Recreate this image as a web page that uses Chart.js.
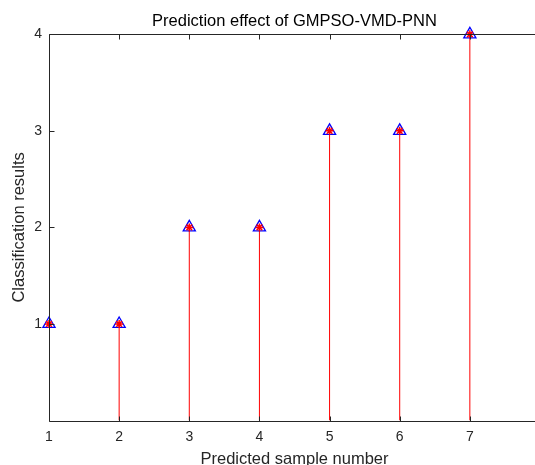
<!DOCTYPE html>
<html lang="en">
  <head>
    <meta charset="UTF-8" />
    <title>Prediction effect of GMPSO-VMD-PNN</title>
    <script src="https://cdn.jsdelivr.net/npm/chart.js"></script>
    <style>
      html, body { margin: 0; padding: 0; background: #fff; overflow: hidden; }
      /* axes run out to x = 8 just past the right edge of the window */
      #stem-chart { display: block; width: 540px; height: 465px; }
    </style>
  </head>
  <body>
    <canvas id="stem-chart" width="540" height="465"></canvas>

    <script>
      const sampleNo = [1, 2, 3, 4, 5, 6, 7];
      const actualClass = [1, 1, 2, 2, 3, 3, 4];
      const predictedClass = [1, 1, 2, 2, 3, 3, 4];
      const xTicks = [1, 2, 3, 4, 5, 6, 7];
      const xTickMarks = [1, 2, 3, 4, 5, 6, 7, 8];
      const yTicks = [1, 2, 3, 4];

      const axisColor = "#262626";

      // stem lines: 0 -> value, broken by a null point
      function stemPoints(vals) {
        const pts = [];
        sampleNo.forEach((x, i) => {
          pts.push({ x: x, y: 0 }, { x: x, y: vals[i] }, { x: x, y: null });
        });
        return pts;
      }
      function markerPoints(vals) {
        return sampleNo.map((x, i) => ({ x: x, y: vals[i] }));
      }

      // box + inward tick marks, matlab style
      const axesFrame = {
        id: "axesFrame",
        afterDraw(chart) {
          const { ctx, chartArea: a, scales } = chart;
          const px = (v) => Math.round(v) + 0.5;
          const len = 5;
          ctx.save();
          ctx.strokeStyle = axisColor;
          ctx.lineWidth = 1;
          ctx.beginPath();
          ctx.rect(px(a.left), px(a.top), Math.round(a.right) - Math.round(a.left), Math.round(a.bottom) - Math.round(a.top));
          xTickMarks.forEach((v) => {
            const x = px(scales.x.getPixelForValue(v));
            ctx.moveTo(x, px(a.bottom));
            ctx.lineTo(x, px(a.bottom) - len);
            ctx.moveTo(x, px(a.top));
            ctx.lineTo(x, px(a.top) + len);
          });
          yTicks.forEach((v) => {
            const y = px(scales.y.getPixelForValue(v));
            ctx.moveTo(px(a.left), y);
            ctx.lineTo(px(a.left) + len, y);
            ctx.moveTo(px(a.right), y);
            ctx.lineTo(px(a.right) - len, y);
          });
          ctx.stroke();
          ctx.restore();
        },
      };

      new Chart(document.getElementById("stem-chart"), {
        type: "scatter",
        data: {
          datasets: [
            {
              label: "Prediction stems",
              data: stemPoints(predictedClass),
              showLine: true,
              spanGaps: false,
              borderColor: "#ff0000",
              borderWidth: 1,
              pointRadius: 0,
              order: 3,
            },
            {
              label: "Actual",
              data: markerPoints(actualClass),
              pointStyle: "triangle",
              pointRadius: 7,
              borderColor: "#0000ff",
              backgroundColor: "rgba(0,0,0,0)",
              borderWidth: 1.3,
              clip: false,
              order: 2,
            },
            {
              label: "Predicted",
              data: markerPoints(predictedClass),
              pointStyle: "star",
              pointRadius: 4,
              borderColor: "#ff0000",
              backgroundColor: "#ff0000",
              borderWidth: 1.5,
              clip: false,
              order: 1,
            },
          ],
        },
        options: {
          responsive: false,
          animation: false,
          layout: { padding: 0, autoPadding: false },
          plugins: {
            legend: { display: false },
            tooltip: { enabled: false },
            title: {
              display: true,
              fullSize: false,
              text: "Prediction effect of GMPSO-VMD-PNN",
              color: "#000",
              font: { family: "'Liberation Sans', Arial, sans-serif", size: 16.5, weight: "normal" },
              padding: { top: 11.1, bottom: 3.4 },
            },
          },
          scales: {
            x: {
              type: "linear",
              min: 1,
              max: 8,
              afterBuildTicks: (scale) => {
                scale.ticks = xTicks.map((v) => ({ value: v }));
              },
              afterFit: (scale) => {
                scale.height = 44.5;
                scale.paddingLeft = 0;
                scale.paddingRight = 0;
              },
              grid: { display: true, drawOnChartArea: false, drawTicks: false },
              border: { display: false },
              ticks: {
                color: axisColor,
                padding: 8,
                maxRotation: 0,
                font: { family: "'Liberation Sans', Arial, sans-serif", size: 14 },
              },
              title: {
                display: true,
                text: "Predicted sample number",
                color: axisColor,
                font: { family: "'Liberation Sans', Arial, sans-serif", size: 16.5 },
                padding: { top: 0, bottom: -4.4 },
              },
            },
            y: {
              type: "linear",
              min: 0,
              max: 4,
              afterBuildTicks: (scale) => {
                scale.ticks = yTicks.map((v) => ({ value: v }));
              },
              afterFit: (scale) => {
                scale.width = 49;
                scale.paddingTop = 0;
                scale.paddingBottom = 0;
              },
              grid: { display: true, drawOnChartArea: false, drawTicks: false },
              border: { display: false },
              ticks: {
                color: axisColor,
                padding: 7,
                font: { family: "'Liberation Sans', Arial, sans-serif", size: 14 },
              },
              title: {
                display: true,
                text: "Classification results",
                color: axisColor,
                font: { family: "'Liberation Sans', Arial, sans-serif", size: 16.5 },
                padding: { top: 9.4, bottom: 0 },
              },
            },
          },
        },
        plugins: [axesFrame],
      });
    </script>
  </body>
</html>
